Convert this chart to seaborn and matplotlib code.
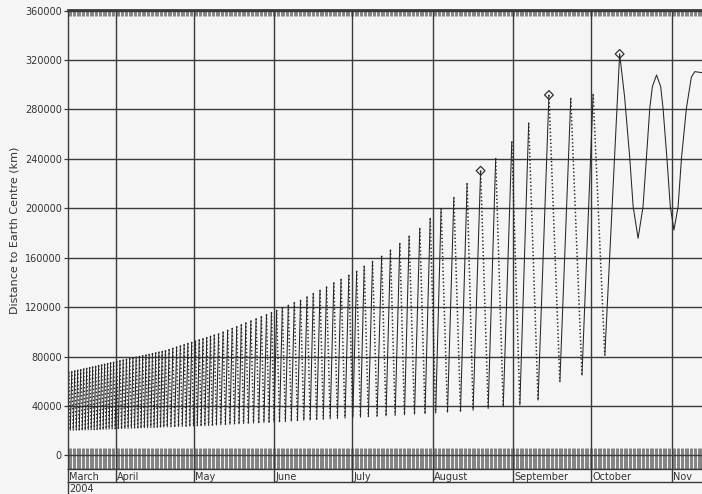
import numpy as np
import pandas as pd
import matplotlib
matplotlib.use("Agg")
import matplotlib.pyplot as plt
import seaborn as sns
from matplotlib.lines import Line2D
from matplotlib.ticker import FixedLocator, NullLocator

# ---------------- data (days counted from 1 March 2004 = 0) ----------------
apo_day = [13.0, 14.15, 15.3, 16.45, 17.6, 18.75, 19.9, 21.05, 22.2, 23.35, 24.5, 25.65, 26.8, 27.95, 29.1, 30.25,
           31.45, 32.7, 33.95, 35.2, 36.45, 37.7, 38.95, 40.2, 41.45, 42.7, 43.95, 45.2, 46.45, 47.7, 48.95, 50.2,
           51.6, 53.05, 54.5, 55.95, 57.4, 58.85, 60.3, 61.75, 63.2, 64.65, 66.1, 67.55, 69.0,
           70.65, 72.4, 74.15, 75.9, 77.65, 79.4, 81.15,
           83.1, 85.1, 87.1, 89.1, 91.0,
           93.0, 95.2, 97.5, 99.8, 102.2, 104.7, 107.1, 109.7, 112.2, 115.0,
           117.8, 120.8, 123.8, 126.7, 129.9, 133.4, 136.8, 140.4, 144.0, 148.1,
           152.1, 156.3, 161.2, 166.3, 171.5, 177.3, 183.5, 190.0, 197.8, 206.2, 214.8]
apo_km = [67500, 68000, 68600, 69100, 69600, 70200, 70700, 71300, 71800, 72300, 72900, 73400, 74000, 74500, 75100, 75600,
          76200, 76800, 77400, 78000, 78500, 79100, 79700, 80300, 80900, 81400, 82000, 82600, 83200, 83800, 84300, 84900,
          85900, 86900, 87900, 88800, 89800, 90800, 91700, 92700, 93700, 94600, 95600, 96600, 97600,
          98500, 100000, 101500, 103000, 104400, 105900, 107400,
          109000, 110700, 112400, 114100, 115800,
          117600, 119800, 121700, 123900, 125700, 128400, 131200, 133800, 136500, 139800,
          142700, 146000, 149200, 153300, 157100, 161400, 166300, 171700, 177600, 183800,
          191900, 200000, 208900, 220200, 230400, 240500, 253900, 269100, 291700, 289100, 292300]
peri_day = [12.42,
            13.58, 14.72, 15.88, 17.02, 18.18, 19.32, 20.48, 21.62, 22.78, 23.92, 25.08, 26.22, 27.38, 28.52, 29.68, 30.85,
            32.08, 33.32, 34.58, 35.82, 37.08, 38.32, 39.58, 40.82, 42.08, 43.32, 44.58, 45.82, 47.08, 48.32, 49.58, 50.9,
            52.32, 53.78, 55.22, 56.68, 58.12, 59.58, 61.02, 62.48, 63.92, 65.38, 66.82, 68.28, 69.82,
            71.52, 73.28, 75.02, 76.78, 78.52, 80.28, 82.12,
            84.1, 86.1, 88.1, 90.05, 92.0,
            94.1, 96.35, 98.65, 101.0, 103.45, 105.9, 108.4, 110.95, 113.6, 116.4,
            119.3, 122.3, 125.25, 128.3, 131.65, 135.1, 138.6, 142.2, 146.05, 150.1,
            154.2, 158.75, 163.75, 168.6, 174.4, 180.2, 186.6, 193.6, 202.0, 210.5, 219.3]
peri_km = [20300,
           20400, 20400, 20500, 20500, 20600, 20600, 20700, 20700, 20800, 20900, 21000, 21100, 21200, 21300, 21400, 21500,
           21600, 21700, 21800, 21900, 22000, 22100, 22200, 22300, 22400, 22500, 22600, 22700, 22800, 22900, 23000, 23100,
           23200, 23300, 23400, 23500, 23600, 23700, 23800, 23900, 24000, 24100, 24200, 24400, 24600,
           24800, 25000, 25200, 25400, 25600, 25800, 26000,
           26200, 26400, 26600, 26800, 27000,
           27200, 27500, 27800, 28100, 28400, 28700, 29000, 29300, 29600, 29900,
           30200, 30500, 30900, 31300, 31700, 32100, 32500, 32900, 33400, 33900,
           34400, 35000, 35700, 36500, 38000, 39400, 40800, 44800, 59600, 65000, 81000]
late_day = [225.0, 226.9, 228.9, 230.2, 232.1, 234.0, 235.3, 236.6, 237.6, 239.2, 240.8,
            241.7, 243.2, 244.5, 245.9, 247.5, 248.8, 250.7, 252.6, 253.9, 256.7]
late_km = [324900, 290400, 240700, 201300, 175700, 201300, 240500, 281000, 298500, 307900, 298500,
           281000, 240500, 201300, 182400, 201300, 240500, 281000, 306100, 310600, 309800]
marker_day = [171.5, 197.8, 225.0]
marker_km = [230400, 291700, 324900]

month_start = [31, 61, 92, 122, 153, 184, 214, 245]
month_names = ["March", "April", "May", "June", "July", "August", "September", "October", "Nov"]
year_label = "2004"
y_ticks = [0, 40000, 80000, 120000, 160000, 200000, 240000, 280000, 320000, 360000]
x_lim = (12.7, 256.7)
y_lim = (-11000, 360500)

# ---------------- build segments ----------------
pts = sorted(zip(apo_day + peri_day, apo_km + peri_km))
pts.append((late_day[0], late_km[0]))
rows = []
for i in range(len(pts) - 1):
    (d0, k0), (d1, k1) = pts[i], pts[i + 1]
    kind = "rise" if k1 > k0 else "fall"
    rows.append(dict(day=d0, km=k0, seg=i, kind=kind))
    rows.append(dict(day=d1, km=k1, seg=i, kind=kind))
n = len(pts)
for d, k in zip(late_day, late_km):
    rows.append(dict(day=d, km=k, seg=n, kind="rise"))
df = pd.DataFrame(rows)

# ---------------- style ----------------
sns.set_theme(style="white")
plt.rcParams["font.family"] = ["DejaVu Sans"]
BG = "#f5f5f5"
GRID = "#3a3a3a"
LINE = "#262626"
TXT = "#333333"

fig = plt.figure(figsize=(7.02, 4.94), dpi=100, facecolor=BG)
W, H = 702.0, 494.0
ax = fig.add_axes([68 / W, 1 - 469 / H, 634 / W, 459 / H], facecolor=BG)

sns.lineplot(data=df[df["kind"] == "fall"], x="day", y="km", units="seg", estimator=None,
             color=LINE, linewidth=1.1, dashes=False, linestyle=(0, (0.9, 1.5)),
             sort=False, legend=False, ax=ax)
sns.lineplot(data=df[df["kind"] == "rise"], x="day", y="km", units="seg", estimator=None,
             color=LINE, linewidth=0.75, sort=False, legend=False, ax=ax)
sns.scatterplot(x=marker_day, y=marker_km, marker="D", s=20, facecolor="none",
                edgecolor="#333333", linewidth=0.9, ax=ax, zorder=5)

ax.set_xlim(*x_lim)
ax.set_ylim(*y_lim)
ax.set_yticks(y_ticks)
ax.set_yticklabels([str(v) for v in y_ticks], fontsize=7, color=TXT)
ax.tick_params(axis="y", direction="out", length=3, width=0.9, color=GRID, pad=1.5, left=True)
ax.set_xticks(month_start)
band_ticks = np.arange(13, 257, 0.5)
ax.xaxis.set_minor_locator(FixedLocator(band_ticks))
ax.tick_params(axis="x", which="major", length=0, labelbottom=False)
ax.tick_params(axis="x", which="minor", direction="in", length=15, width=0.5,
               color="#555555", bottom=True, top=False)
ax.grid(True, axis="both", which="major", color=GRID, linewidth=1.0)
ax.set_axisbelow(True)
for s in ["left", "top", "bottom"]:
    ax.spines[s].set_color(GRID)
    ax.spines[s].set_linewidth(1.0)
ax.spines["right"].set_visible(False)
ax.set_xlabel("")
ax.set_ylabel("Distance to Earth Centre (km)", fontsize=8, color=TXT)
ax.yaxis.set_label_coords(-0.076, 0.52)

sec = ax.secondary_xaxis("top")
sec.xaxis.set_major_locator(NullLocator())
sec.xaxis.set_minor_locator(FixedLocator(band_ticks))
sec.tick_params(axis="x", which="minor", direction="in", length=4.3, width=0.5, color="#555555")
sec.spines["top"].set_color(GRID)

# month label row
axm = fig.add_axes([68 / W, 1 - 482 / H, 634 / W, 13 / H], facecolor=BG)
axm.set_xlim(*x_lim)
axm.set_ylim(0, 1)
axm.set_yticks([])
axm.set_xticks(month_start)
axm.tick_params(axis="x", length=0, labelbottom=False)
axm.grid(True, axis="x", color=GRID, linewidth=1.0)
for s in ["left", "bottom", "top"]:
    axm.spines[s].set_color(GRID)
    axm.spines[s].set_linewidth(1.0)
axm.spines["right"].set_visible(False)
label_days = [x_lim[0]] + month_start
for d, name in zip(label_days, month_names):
    axm.text(d + 0.5, 0.42, name, va="center", ha="left", fontsize=7, color=TXT)

fig.text(69 / W, 1 - 489 / H, year_label, va="center", ha="left", fontsize=7, color=TXT)
fig.add_artist(Line2D([68 / W, 68 / W], [0, 12 / H], transform=fig.transFigure,
                      color=GRID, linewidth=1.0))

fig.savefig("out.png", dpi=100, facecolor=BG)
